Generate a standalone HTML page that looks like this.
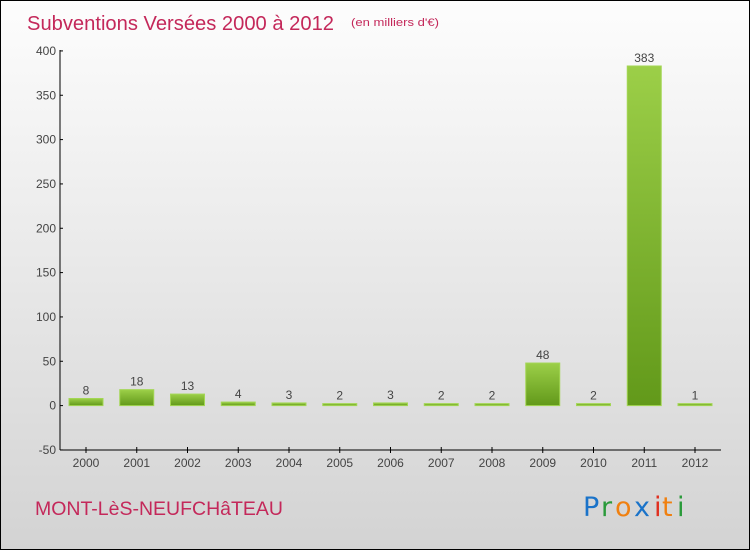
<!DOCTYPE html>
<html><head><meta charset="utf-8"><style>
body{margin:0}
#c{width:750px;height:550px;position:relative;overflow:hidden;font-family:"Liberation Sans",sans-serif}
</style></head><body>
<div id="c">
<svg id="s" width="750" height="550" xmlns="http://www.w3.org/2000/svg">
<defs>
<linearGradient id="bg" x1="0" y1="0" x2="0" y2="1"><stop offset="0" stop-color="#fdfdfd"/><stop offset="1" stop-color="#d3d3d3"/></linearGradient>
<linearGradient id="barv" x1="0" y1="0" x2="0" y2="1"><stop offset="0" stop-color="#9ccf48"/><stop offset="1" stop-color="#62991a"/></linearGradient>
</defs>
<rect x="0.5" y="0.5" width="749" height="549" fill="url(#bg)" stroke="#000"/>
<text x="27" y="30" font-size="20" fill="#c4285a" textLength="307" lengthAdjust="spacingAndGlyphs">Subventions Versées 2000 à 2012</text>
<text x="351" y="26" font-size="11" fill="#c4285a" textLength="88" lengthAdjust="spacingAndGlyphs">(en milliers d'€)</text>
<text x="35" y="515" font-size="19" fill="#c4285a" textLength="248" lengthAdjust="spacingAndGlyphs">MONT-LèS-NEUFCHâTEAU</text>
<g font-size="27" font-family="'DejaVu Sans',sans-serif">
<text x="583" y="516" fill="#1a73c9">P</text><text x="601" y="516" fill="#2a9a3a">r</text><text x="615" y="516" fill="#f08010">o</text><text x="634" y="516" fill="#1a73c9">x</text><text x="654" y="516" fill="#e03020">i</text><text x="662" y="516" fill="#f08010">t</text><text x="677" y="516" fill="#2a9a3a">i</text>
</g>
<g id="axes"></g><g id="bars"></g>
</svg>
</div>
<script>
const categories=["2000","2001","2002","2003","2004","2005","2006","2007","2008","2009","2010","2011","2012"];
const values=[8,18,13,4,3,2,3,2,2,48,2,383,1];
const yTicks=[-50,0,50,100,150,200,250,300,350,400];
const NS="http://www.w3.org/2000/svg";
const y=v=>405.6-v*0.8867;
const x=i=>86+i*50.75;
function mk(t,a,p){const e=document.createElementNS(NS,t);for(const k in a)e.setAttribute(k,a[k]);p.appendChild(e);return e;}
const ax=document.getElementById('axes'),bs=document.getElementById('bars');
let yl=mk('line',{x1:60,x2:60,y1:50,y2:450,stroke:'#000'},ax);


let xl=mk('line',{x1:60,x2:721,y1:450,y2:450,stroke:'#000'},ax);


yTicks.forEach(v=>{
 mk('line',{x1:60,x2:63,y1:y(v),y2:y(v),stroke:'#000'},ax);
 const t=mk('text',{x:56,y:y(v)+4,'text-anchor':'end','font-size':12,fill:'#444'},ax);
 t.textContent=v;
 
 
});
categories.forEach((c,i)=>{
 mk('line',{x1:x(i),x2:x(i),y1:447,y2:453,stroke:'#000'},ax);
 const t=mk('text',{x:x(i),y:467,'text-anchor':'middle','font-size':12,fill:'#444'},ax);
 t.textContent=c;
 
 
 const v=values[i],top=y(v),h=Math.max(y(0)-top,2);
 const r=mk('rect',{x:x(i)-17,y:Math.min(top,y(0)-2),width:34,height:h,fill:'url(#barv)',stroke:'#a3d654','stroke-width':1},bs);
 
 
 const l=mk('text',{x:x(i),y:Math.min(top,y(0)-2)-4,'text-anchor':'middle','font-size':12,fill:'#444'},bs);
 l.textContent=v;
 
 
});
</script>
</body></html>
